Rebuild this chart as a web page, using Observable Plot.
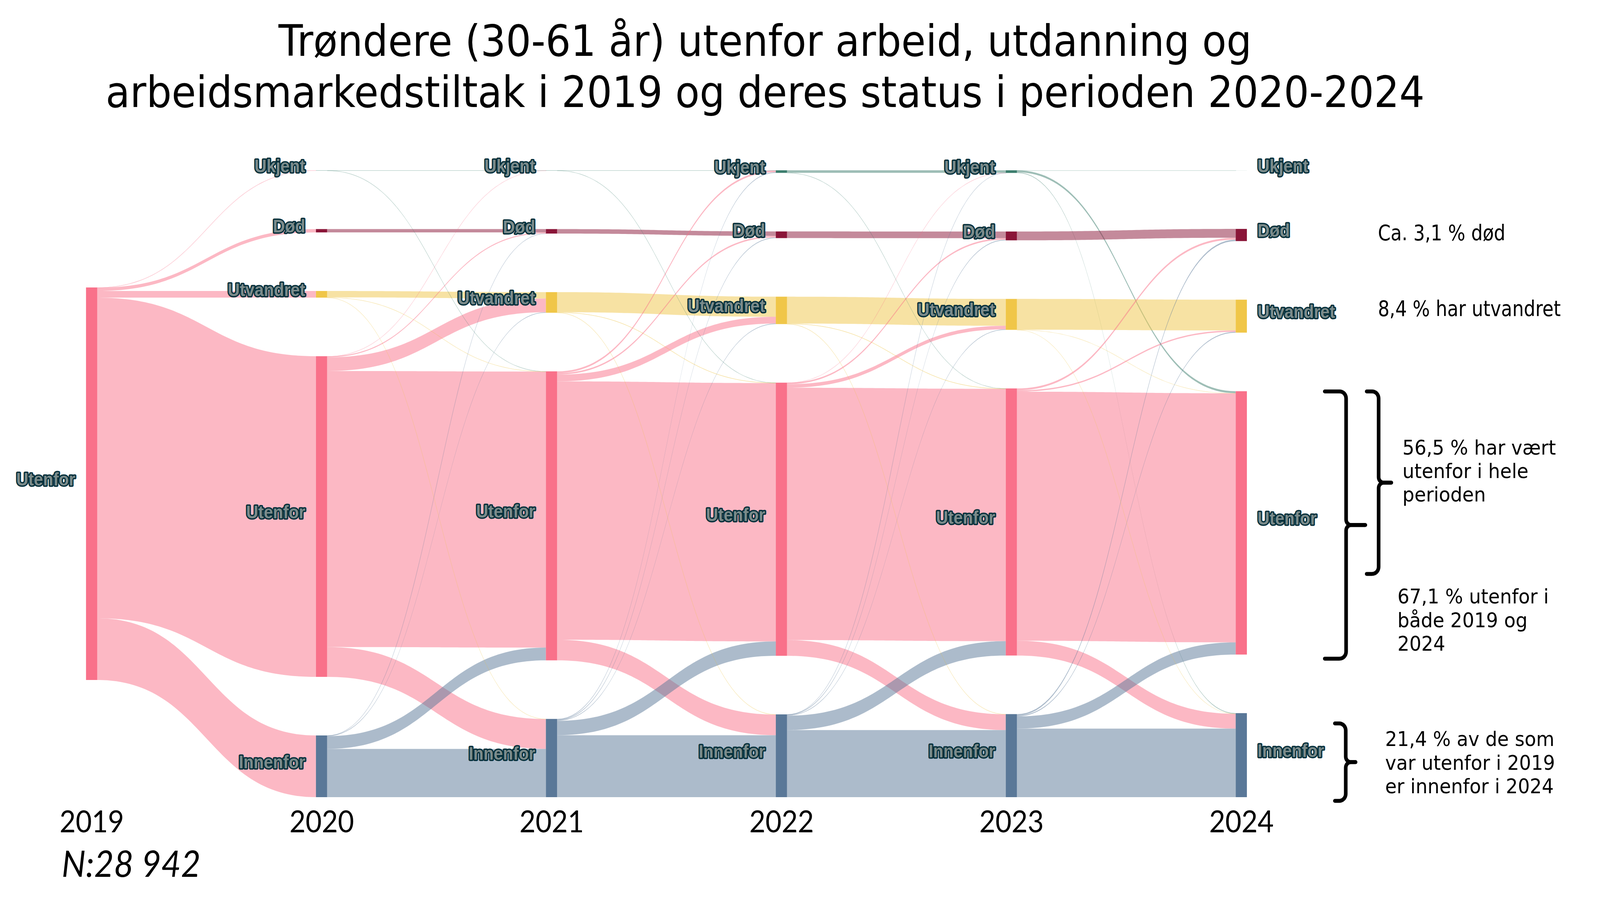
<!DOCTYPE html>
<html><head><meta charset="utf-8">
<script src="https://cdn.jsdelivr.net/npm/d3@7"></script>
<script src="https://cdn.jsdelivr.net/npm/@observablehq/plot@0.6"></script>
<style>
html,body{margin:0;padding:0;background:#fff;overflow:hidden;}
#page{position:absolute;left:0;top:0;width:4427px;height:2312px;transform-origin:0 0;background:#fff;}
#title{position:absolute;left:0;top:0;width:4234px;text-align:center;font-family:"DejaVu Sans",sans-serif;font-size:110px;line-height:131px;padding-top:40px;color:#000;white-space:nowrap;}
#chart{position:absolute;left:0;top:330px;width:4427px;height:1982px;}
#chart svg{display:block;}
</style></head>
<body>
<div id="page">
<div id="title">Trøndere (30-61 år) utenfor arbeid, utdanning og<br>arbeidsmarkedstiltak i 2019 og deres status i perioden 2020-2024</div>
<div id="chart"></div>
</div>
<script>
// ---------------- DATA ----------------
const years = [2019, 2020, 2021, 2022, 2023, 2024];
const states = ["Ukjent", "Død", "Utvandret", "Utenfor", "Innenfor"];

// [from, to, persons]
const flows2019 = [
  ["Utenfor","Ukjent",15], ["Utenfor","Død",245], ["Utenfor","Utvandret",490],
  ["Utenfor","Utenfor",23642], ["Utenfor","Innenfor",4550]
];
const flows2020 = [
  ["Ukjent","Ukjent",10], ["Ukjent","Utenfor",5],
  ["Død","Død",245],
  ["Utvandret","Utvandret",470], ["Utvandret","Utenfor",12], ["Utvandret","Innenfor",8],
  ["Utenfor","Ukjent",5], ["Utenfor","Død",75], ["Utenfor","Utvandret",1010], ["Utenfor","Utenfor",20352], ["Utenfor","Innenfor",2200],
  ["Innenfor","Død",10], ["Innenfor","Utvandret",40], ["Innenfor","Utenfor",940], ["Innenfor","Innenfor",3560]
];
const flows2021 = [
  ["Ukjent","Ukjent",10], ["Ukjent","Utenfor",5],
  ["Død","Død",330],
  ["Utvandret","Utvandret",1480], ["Utvandret","Utenfor",25], ["Utvandret","Innenfor",15],
  ["Utenfor","Ukjent",130], ["Utenfor","Død",110], ["Utenfor","Utvandret",500], ["Utenfor","Utenfor",19049], ["Utenfor","Innenfor",1520],
  ["Innenfor","Ukjent",50], ["Innenfor","Død",50], ["Innenfor","Utvandret",40], ["Innenfor","Utenfor",1060], ["Innenfor","Innenfor",4568]
];
const flows2022 = [
  ["Ukjent","Ukjent",185], ["Ukjent","Utenfor",5],
  ["Død","Død",490],
  ["Utvandret","Utvandret",1980], ["Utvandret","Utenfor",25], ["Utvandret","Innenfor",15],
  ["Utenfor","Ukjent",5], ["Utenfor","Død",110], ["Utenfor","Utvandret",260], ["Utenfor","Utenfor",18604], ["Utenfor","Innenfor",1160],
  ["Innenfor","Ukjent",5], ["Innenfor","Død",50], ["Innenfor","Utvandret",40], ["Innenfor","Utenfor",1060], ["Innenfor","Innenfor",4948]
];
const flows2023 = [
  ["Ukjent","Ukjent",3], ["Ukjent","Utenfor",147], ["Ukjent","Innenfor",45],
  ["Død","Død",650],
  ["Utvandret","Utvandret",2270], ["Utvandret","Utenfor",5], ["Utvandret","Innenfor",5],
  ["Utenfor","Død",140], ["Utenfor","Utvandret",100], ["Utenfor","Utenfor",18364], ["Utenfor","Innenfor",1090],
  ["Innenfor","Død",107], ["Innenfor","Utvandret",61], ["Innenfor","Utenfor",900], ["Innenfor","Innenfor",5055]
];

const sideNotes = [
  {state: "Død", text: "Ca. 3,1 % død"},
  {state: "Utvandret", text: "8,4 % har utvandret"}
];
const braceNotes = [
  "56,5 % har vært\nutenfor i hele\nperioden",
  "67,1 % utenfor i\nbåde 2019 og\n2024",
  "21,4 % av de som\nvar utenfor i 2019\ner innenfor i 2024"
];

// ---------------- STYLE / LAYOUT ----------------
const nodeColor = {Ukjent: "#3d7e6e", "Død": "#8a1538", Utvandret: "#f0c648", Utenfor: "#f9718a", Innenfor: "#5a7898"};
const W = 4427, Hsvg = 1982;
const xRange = [253.5, 3434.5];
const yRange = [106, 1711];
const nodeWpx = 31, padPx = 150;

const flowsByYear = [flows2019, flows2020, flows2021, flows2022, flows2023];
const total = d3.sum(flows2019, d => d[2]);
const ky = (yRange[1] - yRange[0] - 4 * padPx) / total;   // px per person
const gap = padPx / ky;
const Hdom = total + 4 * gap;
const kx = (xRange[1] - xRange[0]) / (years[years.length - 1] - years[0]); // px per year
const halfW = nodeWpx / 2 / kx;
const lastYear = years[years.length - 1];
const pxToX = px => years[0] + (px - xRange[0]) / kx;
const pxToY = py => (py - yRange[0]) / ky;
const yToPx = y => yRange[0] + y * ky;

// nodes
const nodes = [];
years.forEach((yr, i) => {
  let vals;
  if (i === 0) vals = states.map(s => [s, d3.sum(flows2019.filter(f => f[0] === s), f => f[2])]).filter(d => d[1] > 0);
  else vals = states.map(s => [s, d3.sum(flowsByYear[i - 1].filter(f => f[1] === s), f => f[2])]);
  const span = d3.sum(vals, d => d[1]) + (vals.length - 1) * gap;
  let y = (Hdom - span) / 2;
  for (const [s, v] of vals) {
    nodes.push({year: yr, state: s, value: v, y0: y, y1: y + v, outC: y, inC: y});
    y += v + gap;
  }
});
const nodeOf = (yr, s) => nodes.find(n => n.year === yr && n.state === s);

// links
const links = [];
flowsByYear.forEach((fl, i) => {
  const ys = years[i], yt = years[i + 1];
  const sorted = fl.slice().sort((a, b) =>
    states.indexOf(a[0]) - states.indexOf(b[0]) || states.indexOf(a[1]) - states.indexOf(b[1]));
  for (const [s, t, v] of sorted) {
    const ns = nodeOf(ys, s), nt = nodeOf(yt, t);
    links.push({ys, yt, sy: ns.outC, ty: nt.inC, value: v, color: nodeColor[s]});
    ns.outC += v; nt.inC += v;
  }
});
const NS = 64;
const linkPts = [];
const thinPts = [];
links.forEach((l, k) => {
  const xa = l.ys + halfW, xb = l.yt - halfW;
  for (let j = 0; j <= NS; j++) {
    const t = j / NS;
    const bx = 1.5 * t * (1 - t) + t * t * t;
    const by = 3 * t * t - 2 * t * t * t;
    const top = l.sy + (l.ty - l.sy) * by;
    const p = {id: k, x: xa + (xb - xa) * bx, y1: top, y2: top + l.value, color: l.color};
    linkPts.push(p);
    if (l.value * ky < 1) thinPts.push({id: k, x: p.x, y: top + l.value / 2, color: l.color});
  }
});

// braces (annotation shapes anchored on 2024 nodes)
const cx24 = xRange[1];
const nO = nodeOf(lastYear, "Utenfor"), nI = nodeOf(lastYear, "Innenfor");
const oTop = yToPx(nO.y0), oBot = yToPx(nO.y1), iTop = yToPx(nI.y0), iBot = yToPx(nI.y1);
const braces = [
  {id: 0, e: cx24 + 230.5, s: cx24 + 289.5, t: cx24 + 342.5, top: oTop, bot: oBot + 10},
  {id: 1, e: cx24 + 346.5, s: cx24 + 379.5, t: cx24 + 414.5, top: oTop, bot: oTop + 0.693 * (oBot - oTop)},
  {id: 2, e: cx24 + 258.5, s: cx24 + 288.5, t: cx24 + 315.5, top: iTop + 0.12 * (iBot - iTop), bot: iBot + 9}
];
const bracePts = [];
braces.forEach(b => {
  const r = 18, r2 = 14, m = (b.top + b.bot) / 2;
  const up = [], lo = [];
  up.push([b.e, b.top]);
  for (let k = 0; k <= 8; k++) { const a = k / 8 * Math.PI / 2; up.push([b.s - r + r * Math.sin(a), b.top + r - r * Math.cos(a)]); }
  for (let k = 0; k <= 8; k++) { const a = k / 8 * Math.PI / 2; up.push([b.s + r2 - r2 * Math.cos(a), m - r2 + r2 * Math.sin(a)]); }
  up.push([b.t, m]);
  lo.push([b.t, m]);
  for (let k = 0; k <= 8; k++) { const a = k / 8 * Math.PI / 2; lo.push([b.s + r2 - r2 * Math.sin(a), m + r2 - r2 * Math.cos(a)]); }
  for (let k = 0; k <= 8; k++) { const a = k / 8 * Math.PI / 2; lo.push([b.s - r + r * Math.cos(a), b.bot - r + r * Math.sin(a)]); }
  lo.push([b.e, b.bot]);
  up.forEach(([x, y]) => bracePts.push({id: b.id * 2, x: pxToX(x), y: pxToY(y)}));
  lo.forEach(([x, y]) => bracePts.push({id: b.id * 2 + 1, x: pxToX(x), y: pxToY(y)}));
  b.mid = m;
});
const braceTextPos = [
  {text: braceNotes[0], x: pxToX(cx24 + 445.5), y: pxToY(braces[1].mid - 31)},
  {text: braceNotes[1], x: pxToX(cx24 + 431.5), y: pxToY(braces[0].bot - 100)},
  {text: braceNotes[2], x: pxToX(cx24 + 397.5), y: pxToY(braces[2].mid)}
];
const sideTextPos = sideNotes.map(n => {
  const nd = nodeOf(lastYear, n.state);
  const shiftPx = n.state === "Død" ? -5 : -19;
  return {text: n.text, x: pxToX(cx24 + 377.5), y: (nd.y0 + nd.y1) / 2 + shiftPx / ky};
});

const fmtN = n => d3.format(",")(n).replace(/,/g, " ");
const labelStyle = {
  fontSize: 46, fontWeight: "bold", fontFamily: "Liberation Sans, Arial, sans-serif",
  fill: "#7b8b8b", stroke: "#05303b", strokeWidth: 7, strokeLinejoin: "round"
};

const chart = Plot.plot({
  width: W, height: Hsvg,
  marginLeft: 0, marginRight: 0, marginTop: yRange[0], marginBottom: Hsvg - yRange[1],
  style: {background: "white", overflow: "visible"},
  x: {domain: [years[0], lastYear], range: xRange, axis: null},
  y: {domain: [0, Hdom], range: yRange, axis: null},
  color: {type: "identity"},
  marks: [
    Plot.areaY(linkPts, {x: "x", y1: "y1", y2: "y2", z: "id", fill: "color", fillOpacity: 0.5, curve: "linear"}),
    Plot.line(thinPts, {x: "x", y: "y", z: "id", stroke: "color", strokeOpacity: 0.3, strokeWidth: 1.2, curve: "linear"}),
    Plot.rect(nodes, {x1: d => d.year - halfW, x2: d => d.year + halfW, y1: "y0", y2: "y1", fill: d => nodeColor[d.state]}),
    Plot.text(nodes.filter(d => d.year < lastYear), {x: "year", y: d => (d.y0 + d.y1) / 2, text: "state",
      textAnchor: "end", lineAnchor: "bottom", dx: -(nodeWpx / 2 + 30), dy: 4, ...labelStyle}),
    Plot.text(nodes.filter(d => d.year === lastYear), {x: "year", y: d => (d.y0 + d.y1) / 2, text: "state",
      textAnchor: "start", lineAnchor: "bottom", dx: nodeWpx / 2 + 29, dy: 4, ...labelStyle}),
    Plot.text(years, {x: d => d, frameAnchor: "bottom", text: d => String(d), lineAnchor: "bottom", dy: 89,
      fontSize: 77, fontFamily: "Lato, Liberation Sans, sans-serif", fill: "#000"}),
    Plot.text([`N:${fmtN(total)}`], {frameAnchor: "bottom-left", text: d => d, dx: 170, dy: 203, lineAnchor: "bottom",
      textAnchor: "start", fontSize: 94, fontStyle: "italic", fontFamily: "Lato, Liberation Sans, sans-serif", fill: "#000"}),
    Plot.text(sideTextPos, {x: "x", y: "y", text: "text",
      textAnchor: "start", lineAnchor: "middle", fontSize: 56,
      fontFamily: "DejaVu Sans Condensed, Liberation Sans Narrow, Roboto, sans-serif", fill: "#000"}),
    Plot.line(bracePts, {x: "x", y: "y", z: "id", stroke: "#000", strokeWidth: 10, strokeLinejoin: "round", curve: "linear"}),
    Plot.text(braceTextPos, {x: "x", y: "y", text: "text",
      textAnchor: "start", lineAnchor: "middle", lineHeight: 1.16, fontSize: 52,
      fontFamily: "DejaVu Sans, sans-serif", fill: "#000"})
  ]
});
document.getElementById("chart").appendChild(chart);

// fit the 4427×2312 design to the actual viewport
function fitPage() {
  const vw = document.documentElement.clientWidth || window.innerWidth || 4427;
  const vh = document.documentElement.clientHeight || window.innerHeight || 2312;
  document.getElementById("page").style.transform = `scale(${vw / 4427}, ${vh / 2312})`;
}
fitPage();
window.addEventListener("resize", fitPage);
</script>
</body></html>
